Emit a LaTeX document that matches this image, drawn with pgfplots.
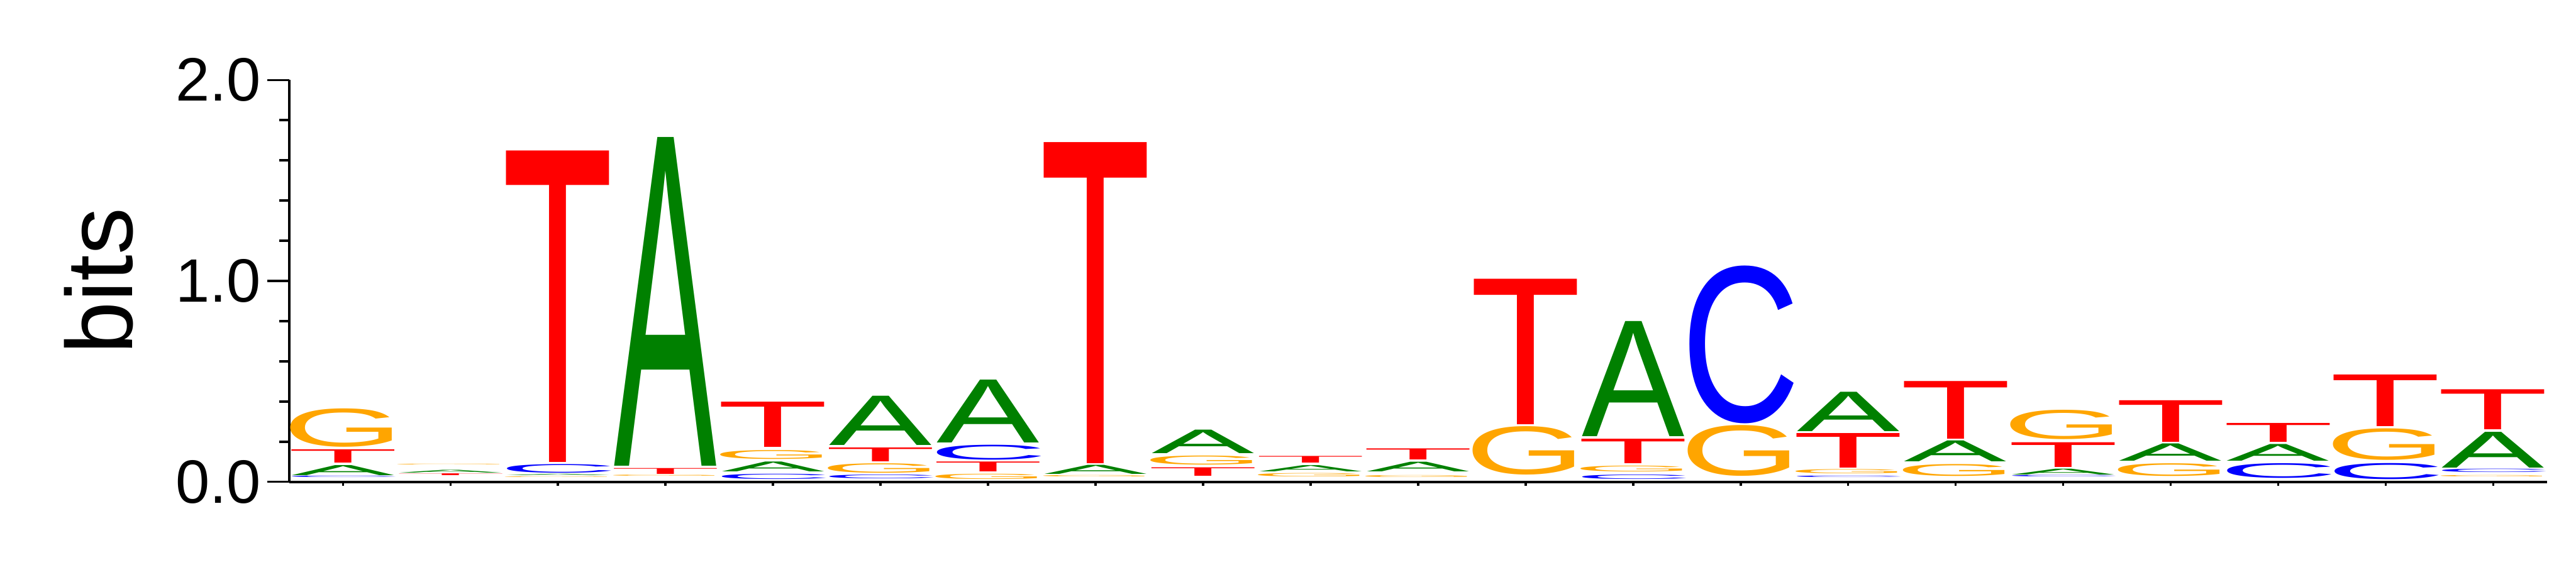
\documentclass[border=0pt]{standalone}
\usepackage{fontspec}
\setmainfont{Liberation Sans}
\usepackage{graphicx}
\usepackage{pgfplots}
\pgfplotsset{compat=1.18}
\definecolor{cA}{RGB}{0,128,0}
\definecolor{cC}{RGB}{0,0,255}
\definecolor{cG}{RGB}{255,165,0}
\definecolor{cT}{RGB}{255,0,0}
\newdimen\bitunit \bitunit=37.4pt
\pgfplotsset{
  logo/.style n args={3}{
    only marks, mark=*, mark size=0pt, mark options={draw=none,fill=none},
    visualization depends on={value \thisrow{h}\as\hh},
    nodes near coords={\resizebox*{#3}{\hh\bitunit}{\color{#2}#1}},
    every node near coord/.append style={inner sep=0pt, outer sep=0pt, anchor=south},
  },
  logoaxis/.style={
    at={(53.8pt,19.5pt)}, anchor=south west,
    x=20pt, y=37.4pt,
    xmin=0.5, xmax=21.5, ymin=0, ymax=2,
    axis line style={line width=0.5pt, black},
    tick style={line width=0.42pt, black},
    tick align=outside,
    clip=false,
  },
}
\begin{document}
\begin{tikzpicture}
\useasboundingbox (0,0) rectangle (479.2pt,109.2pt);
% x ticks only (short ticks)
\begin{axis}[logoaxis,
  hide y axis, axis x line*=bottom,
  xtick={1,...,21}, xticklabels={},
  major tick length=0.75pt,
]
\end{axis}
\begin{axis}[logoaxis,
  axis x line*=bottom, axis y line*=left,
  xtick=\empty,
  ytick={0,1,2}, yticklabels={0.0,1.0,2.0},
  minor ytick={0.2,0.4,0.6,0.8,1.2,1.4,1.6,1.8},
  major tick length=4.1pt, minor tick length=1.9pt,
  yticklabel style={font=\fontsize{11.4}{13}\selectfont, inner sep=1pt},
  ylabel={bits},
  every axis y label/.style={at={(axis description cs:-0.0843,0.5)}, rotate=90, anchor=center, inner sep=0pt, font=\fontsize{17.5}{20}\selectfont},
]
% A
\addplot[logo={A}{cA}{19.1pt}] table {
x y h
1 0.032 0.050
2 0.039 0.014
3 0.023 0.007
4 0.080 1.636
5 0.051 0.049
6 0.183 0.245
7 0.194 0.313
8 0.037 0.045
9 0.140 0.117
10 0.051 0.031
11 0.052 0.048
13 0.227 0.573
15 0.251 0.196
16 0.100 0.104
17 0.034 0.029
18 0.104 0.086
19 0.104 0.083
21 0.069 0.178
};
% C
\addplot[logo={C}{cC}{22.1pt}] table {
x y h
1 0.012 0.008
3 0.044 0.043
5 0.011 0.026
6 0.011 0.019
7 0.109 0.074
13 0.012 0.022
14 0.291 0.785
15 0.012 0.008
17 0.015 0.008
19 0.019 0.073
20 0.013 0.080
21 0.042 0.017
};
% G
\addplot[logo={G}{cG}{22.5pt}] table {
x y h
1 0.173 0.191
2 0.074 0.004
3 0.010 0.004
4 0.017 0.006
5 0.114 0.044
6 0.044 0.047
7 0.011 0.026
8 0.015 0.007
9 0.084 0.045
10 0.022 0.017
11 0.015 0.010
12 0.034 0.241
13 0.050 0.029
14 0.027 0.253
15 0.039 0.021
16 0.029 0.059
17 0.211 0.146
18 0.029 0.063
20 0.108 0.157
21 0.015 0.007
};
% T
\addplot[logo={T}{cT}{20.7pt}] table {
x y h
1 0.093 0.066
2 0.023 0.009
3 0.096 1.550
4 0.037 0.029
5 0.172 0.225
6 0.102 0.069
7 0.051 0.049
8 0.091 1.598
9 0.029 0.042
10 0.093 0.033
11 0.111 0.055
12 0.286 0.724
13 0.091 0.122
15 0.070 0.172
16 0.212 0.287
17 0.072 0.123
18 0.197 0.207
19 0.197 0.094
20 0.276 0.257
21 0.259 0.199
};
\end{axis}
\end{tikzpicture}
\end{document}
